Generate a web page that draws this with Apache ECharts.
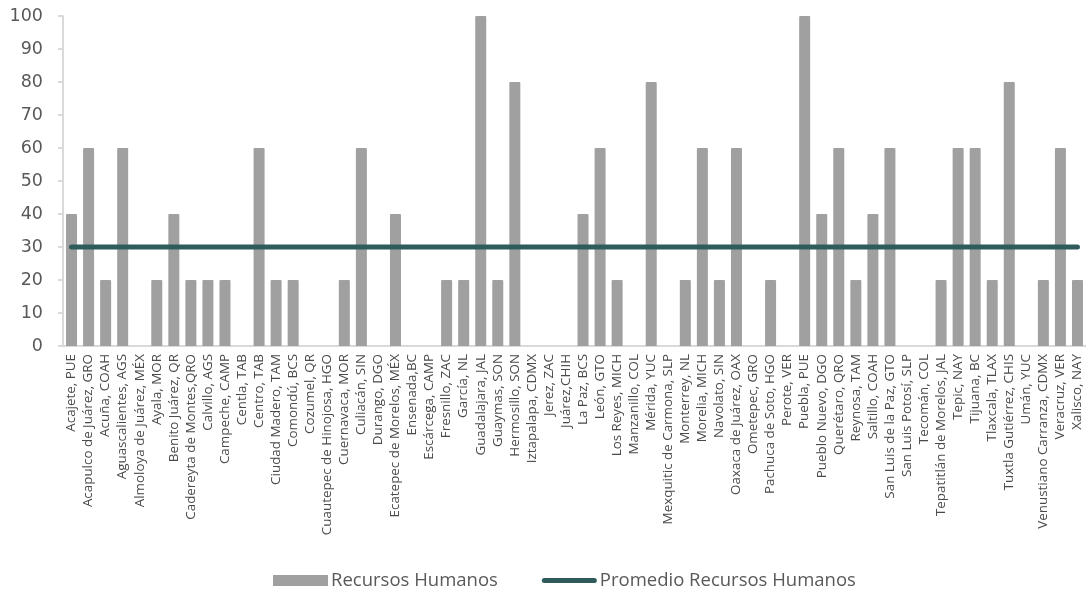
<!DOCTYPE html>
<html>
<head>
<meta charset="utf-8">
<script src="https://cdn.jsdelivr.net/npm/echarts@6/dist/echarts.min.js"></script>
<style>
html,body{margin:0;padding:0;background:#fff;}
#chart{width:1086px;height:591px;}
</style>
</head>
<body>
<div id="chart"></div>
<script>
const categories = [
  "Acajete, PUE","Acapulco de Juárez, GRO","Acuña, COAH","Aguascalientes, AGS","Almoloya de Juárez, MÉX",
  "Ayala, MOR","Benito Juárez, QR","Cadereyta de Montes,QRO","Calvillo, AGS","Campeche, CAMP",
  "Centla, TAB","Centro, TAB","Ciudad Madero, TAM","Comondú, BCS","Cozumel, QR",
  "Cuautepec de Hinojosa, HGO","Cuernavaca, MOR","Culiacán, SIN","Durango, DGO","Ecatepec de Morelos, MÉX",
  "Ensenada,BC","Escárcega, CAMP","Fresnillo, ZAC","García, NL","Guadalajara, JAL",
  "Guaymas, SON","Hermosillo, SON","Iztapalapa, CDMX","Jerez, ZAC","Juárez,CHIH",
  "La Paz, BCS","León, GTO","Los Reyes, MICH","Manzanillo, COL","Mérida, YUC",
  "Mexquitic de Carmona, SLP","Monterrey, NL","Morelia, MICH","Navolato, SIN","Oaxaca de Juárez, OAX",
  "Ometepec, GRO","Pachuca de Soto, HGO","Perote, VER","Puebla, PUE","Pueblo Nuevo, DGO",
  "Querétaro, QRO","Reynosa, TAM","Saltillo, COAH","San Luis de la Paz, GTO","San Luis Potosí, SLP",
  "Tecomán, COL","Tepatitlán de Morelos, JAL","Tepic, NAY","Tijuana, BC","Tlaxcala, TLAX",
  "Tuxtla Gutiérrez, CHIS","Umán, YUC","Venustiano Carranza, CDMX","Veracruz, VER","Xalisco, NAY"
];
const recursosHumanos = [
  40,60,20,60,0, 20,40,20,20,20,
  0,60,20,20,0, 0,20,60,0,40,
  0,0,20,20,100, 20,80,0,0,0,
  40,60,20,0,80, 0,20,60,20,60,
  0,20,0,100,40, 60,20,40,60,0,
  0,20,60,60,20, 80,0,20,60,20
];
const promedioRecursosHumanos = [
  30,30,30,30,30, 30,30,30,30,30,
  30,30,30,30,30, 30,30,30,30,30,
  30,30,30,30,30, 30,30,30,30,30,
  30,30,30,30,30, 30,30,30,30,30,
  30,30,30,30,30, 30,30,30,30,30,
  30,30,30,30,30, 30,30,30,30,30
];
const yTicks = [0,10,20,30,40,50,60,70,80,90,100];

const chart = echarts.init(document.getElementById('chart'), null, {renderer:'canvas'});
chart.setOption({
  animation: false,
  backgroundColor: '#ffffff',
  grid: { left: 63, top: 16, width: 1026, height: 330, containLabel: false },
  legend: {
    top: 571,
    left: 273,
    padding: 0,
    itemGap: 44,
    itemWidth: 55,
    itemHeight: 11,
    symbolKeepAspect: true,
    textStyle: { fontFamily: 'Open Sans', fontSize: 18.5, color: '#595959', padding: [0,0,0,-2] },
    data: [
      { name: 'Recursos Humanos', icon: 'rect' },
      { name: 'Promedio Recursos Humanos',
        icon: 'path://M2.5,0 L52.5,0 A2.5,2.5 0 0 1 52.5,5 L2.5,5 A2.5,2.5 0 0 1 2.5,0 Z' }
    ]
  },
  xAxis: {
    type: 'category',
    data: categories,
    axisLine: { lineStyle: { color: '#d9d9d9', width: 2 } },
    axisTick: { show: false },
    axisLabel: {
      interval: 0, rotate: 90, margin: 8,
      fontFamily: 'Open Sans', fontSize: 13.4, color: '#4a4a4a'
    }
  },
  yAxis: {
    type: 'value',
    min: yTicks[0], max: yTicks[yTicks.length-1], interval: 10,
    splitLine: { show: false },
    axisLine: { show: true, lineStyle: { color: '#d9d9d9', width: 2 } },
    axisTick: { show: true, length: 5, lineStyle: { color: '#d9d9d9', width: 2 } },
    axisLabel: { fontFamily: 'DejaVu Sans', fontSize: 17.5, color: '#595959', margin: 20 }
  },
  series: [
    {
      name: 'Recursos Humanos',
      type: 'bar',
      data: recursosHumanos,
      barWidth: 11,
      itemStyle: { color: '#a0a0a0', borderRadius: [1,1,0,0] }
    },
    {
      name: 'Promedio Recursos Humanos',
      type: 'line',
      data: promedioRecursosHumanos,
      symbol: 'none',
      lineStyle: { color: '#2f5b5c', width: 5, cap: 'round' },
      itemStyle: { color: '#2f5b5c' }
    }
  ]
});
</script>
</body>
</html>
